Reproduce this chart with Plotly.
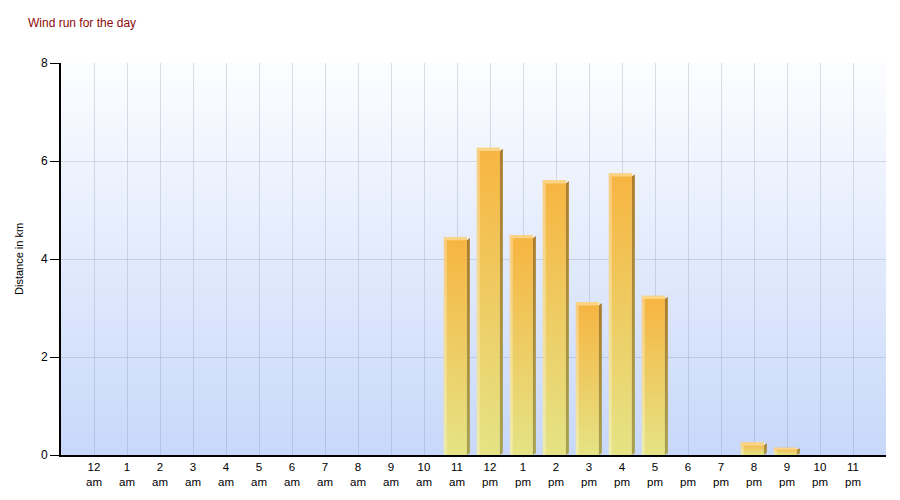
import base64
import struct
import zlib

import plotly.graph_objects as go

# ---------------- data ----------------
hours = ["12", "1", "2", "3", "4", "5", "6", "7", "8", "9", "10", "11",
         "12", "1", "2", "3", "4", "5", "6", "7", "8", "9", "10", "11"]
periods = ["am"] * 12 + ["pm"] * 12
distance_km = [0, 0, 0, 0, 0, 0, 0, 0, 0, 0, 0, 4.45,
               6.27, 4.49, 5.61, 3.12, 5.75, 3.25, 0, 0, 0.26, 0.15, 0, 0]
y_ticks = [0, 2, 4, 6, 8]

title_text = "Wind run for the day"
y_title = "Distance in km"

# ---------------- style ----------------
Y_MAX = 8
X_MIN, X_MAX = -1, 24
BAR_TOP = "#F8B135"
BAR_BOTTOM = "#E7E47E"
SIDE_TOP = "#AD7D2C"
SIDE_BOTTOM = "#A8A24E"
FONT = "Liberation Sans, Arial, sans-serif"
PAGE_OFFSET = 8  # default body margin of the html page

W, H = 900 - PAGE_OFFSET, 500 - PAGE_OFFSET
ML, MR, MT, MB = 61 - PAGE_OFFSET, 900 - 886, 63 - PAGE_OFFSET, 43


def gradient_png(top, bottom, h=256):
    raw = b""
    for i in range(h):
        t = i / (h - 1)
        px = bytes(round(top[k] + (bottom[k] - top[k]) * t) for k in range(3))
        raw += b"\x00" + px + px

    def chunk(tag, data):
        return (struct.pack(">I", len(data)) + tag + data
                + struct.pack(">I", zlib.crc32(tag + data) & 0xFFFFFFFF))

    png = (b"\x89PNG\r\n\x1a\n"
           + chunk(b"IHDR", struct.pack(">IIBBBBB", 2, h, 8, 2, 0, 0, 0))
           + chunk(b"IDAT", zlib.compress(raw))
           + chunk(b"IEND", b""))
    return "data:image/png;base64," + base64.b64encode(png).decode()


fig = go.Figure()

# bar geometry in category units (offsets from the category centre)
L, LF, RF, RD = -0.40, -0.31, 0.30, 0.39
T = 0.067  # top bevel thickness (y units)

for i, v in enumerate(distance_km):
    if v <= 0:
        continue
    c = i
    t = min(T, v * 0.3)
    # main face with vertical gradient
    fig.add_trace(go.Scatter(
        x=[c + L, c + RF, c + RF, c + L, c + L],
        y=[0, 0, v, v, 0],
        mode="lines", line=dict(width=0), fill="toself",
        fillgradient=dict(type="vertical",
                          colorscale=[[0, BAR_BOTTOM], [1, BAR_TOP]]),
        opacity=0.94, hoverinfo="skip", showlegend=False))
    # left highlight
    fig.add_trace(go.Scatter(
        x=[c + L, c + LF, c + LF, c + L, c + L],
        y=[0, 0, v - t, v - t, 0],
        mode="lines", line=dict(width=0), fill="toself",
        fillcolor="rgba(255,255,255,0.33)", hoverinfo="skip", showlegend=False))
    # top highlight
    fig.add_trace(go.Scatter(
        x=[c + L, c + RF, c + RF + 0.05, c + L, c + L],
        y=[v - t, v - t, v, v, v - t],
        mode="lines", line=dict(width=0), fill="toself",
        fillcolor="rgba(255,236,190,0.55)", hoverinfo="skip", showlegend=False))
    # right shaded side
    fig.add_trace(go.Scatter(
        x=[c + RF, c + RD, c + RD, c + RF, c + RF],
        y=[0, min(0.04, v * 0.2), v - t * 0.3, v - t, 0],
        mode="lines", line=dict(width=0), fill="toself",
        fillgradient=dict(type="vertical",
                          colorscale=[[0, SIDE_BOTTOM], [1, SIDE_TOP]]),
        hoverinfo="skip", showlegend=False))

ticktext = [f"{h}<br>{p}" for h, p in zip(hours, periods)] + [""]
tickvals = list(range(len(hours))) + [len(hours)]
plot_w = W - ML - MR

fig.update_layout(
    width=W, height=H,
    margin=dict(l=ML, r=MR, t=MT, b=MB),
    paper_bgcolor="white",
    plot_bgcolor="#E4ECFC",
    font=dict(family=FONT, size=11, color="black"),
    title=dict(text=title_text, xref="container", yref="container",
               x=(28 - PAGE_OFFSET) / W, xanchor="left",
               y=1 - (23 - PAGE_OFFSET) / H, yanchor="middle",
               font=dict(family=FONT, size=12, color="#8B0A0A")),
    images=[dict(source=gradient_png((252, 253, 255), (200, 216, 250)),
                 xref="x", yref="y", x=X_MIN, y=Y_MAX,
                 sizex=X_MAX - X_MIN, sizey=Y_MAX,
                 sizing="stretch", layer="below", opacity=1)],
    xaxis=dict(range=[X_MIN, X_MAX], tickmode="array", tickvals=tickvals,
               ticktext=ticktext, ticks="", showgrid=True,
               gridcolor="rgba(120,130,150,0.25)", gridwidth=1,
               showline=True, linecolor="black", linewidth=2,
               zeroline=False, tickfont=dict(size=11.5), fixedrange=True),
    yaxis=dict(range=[0, Y_MAX], tickmode="array", tickvals=y_ticks,
               ticks="outside", ticklen=9, tickwidth=1, tickcolor="black",
               showgrid=True, gridcolor="rgba(120,130,150,0.25)", gridwidth=1,
               showline=True, linecolor="black", linewidth=2,
               zeroline=False, tickfont=dict(size=12), fixedrange=True),
    annotations=[dict(text=y_title, xref="paper", yref="paper",
                      x=(19 - 61) / plot_w, y=0.5, xanchor="center",
                      yanchor="middle", textangle=-90, showarrow=False,
                      font=dict(family=FONT, size=11, color="black"))],
)

fig.write_html("out.html")
